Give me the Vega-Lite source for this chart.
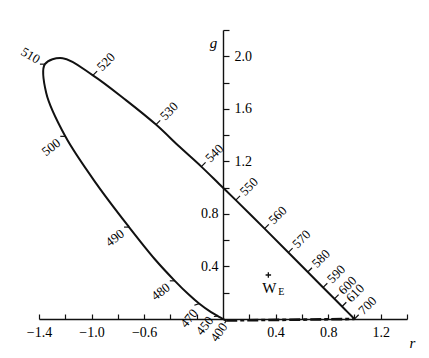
{
  "$schema": "https://vega.github.io/schema/vega-lite/v6.json",
  "width": 368,
  "height": 289,
  "autosize": {"type": "none"},
  "padding": {"left": 39, "top": 30, "right": 22, "bottom": 39},
  "background": "white",
  "config": {
    "view": {"stroke": null},
    "font": "Liberation Serif",
    "axis": {
      "grid": false,
      "domainColor": "#111111",
      "domainWidth": 1.4,
      "tickColor": "#111111",
      "tickWidth": 1.2,
      "labelColor": "#000000",
      "labelFont": "Liberation Serif",
      "labelFontSize": 14,
      "labelOverlap": false,
      "labelFlush": false,
      "labelBound": false,
      "titleFont": "Liberation Serif",
      "titleFontStyle": "italic",
      "titleFontWeight": "normal",
      "titleFontSize": 15,
      "titleColor": "#000000"
    }
  },
  "datasets": {
    "locus": [
      {"wl": 400, "r": 0.0247, "g": -0.0112},
      {"wl": 410, "r": 0.0225, "g": -0.0109},
      {"wl": 420, "r": 0.0181, "g": -0.0094},
      {"wl": 430, "r": 0.0088, "g": -0.0048},
      {"wl": 440, "r": -0.0084, "g": 0.0048},
      {"wl": 450, "r": -0.039, "g": 0.0218},
      {"wl": 460, "r": -0.0909, "g": 0.0517},
      {"wl": 470, "r": -0.1821, "g": 0.1175},
      {"wl": 475, "r": -0.2584, "g": 0.184},
      {"wl": 480, "r": -0.3667, "g": 0.2906},
      {"wl": 485, "r": -0.52, "g": 0.4568},
      {"wl": 490, "r": -0.715, "g": 0.6996},
      {"wl": 495, "r": -0.96, "g": 1.0247},
      {"wl": 500, "r": -1.2, "g": 1.3905},
      {"wl": 505, "r": -1.345, "g": 1.72},
      {"wl": 510, "r": -1.355, "g": 1.94},
      {"wl": 515, "r": -1.22, "g": 1.985},
      {"wl": 520, "r": -0.99, "g": 1.855},
      {"wl": 525, "r": -0.7386, "g": 1.6662},
      {"wl": 530, "r": -0.51, "g": 1.48},
      {"wl": 535, "r": -0.3304, "g": 1.3105},
      {"wl": 540, "r": -0.165, "g": 1.16},
      {"wl": 545, "r": -0.0293, "g": 1.0282},
      {"wl": 550, "r": 0.0974, "g": 0.9051},
      {"wl": 560, "r": 0.3164, "g": 0.6881},
      {"wl": 570, "r": 0.4973, "g": 0.5067},
      {"wl": 580, "r": 0.6449, "g": 0.3579},
      {"wl": 590, "r": 0.7617, "g": 0.2402},
      {"wl": 600, "r": 0.8475, "g": 0.1537},
      {"wl": 610, "r": 0.9059, "g": 0.0949},
      {"wl": 620, "r": 0.9425, "g": 0.058},
      {"wl": 640, "r": 0.9797, "g": 0.0205},
      {"wl": 660, "r": 0.9938, "g": 0.0062},
      {"wl": 700, "r": 1.0, "g": 0.0}
    ],
    "purple": [
      {"r": 0.0247, "g": -0.0112},
      {"r": 1.0, "g": 0.0}
    ],
    "white": [
      {"r": 0.345, "g": 0.335}
    ]
  },
  "resolve": {"axis": {"x": "independent", "y": "independent"}},
  "layer": [
    {
      "data": {"name": "locus"},
      "mark": {"type": "line", "interpolate": "catmull-rom", "color": "#111111", "strokeWidth": 2},
      "encoding": {
        "x": {
          "field": "r", "type": "quantitative",
          "scale": {"domain": [-1.4, 1.4], "nice": false, "zero": false},
          "axis": {
            "orient": "bottom",
            "values": [-1.4, -1.2, -1, -0.8, -0.6, -0.4, -0.2, 0.2, 0.4, 0.6, 0.8, 1, 1.2, 1.4],
            "tickSize": -5,
            "labelPadding": 11,
            "labelExpr": "(datum.value == -1.4 || datum.value == -1 || datum.value == -0.6 || datum.value == 0.4 || datum.value == 0.8 || datum.value == 1.2) ? format(datum.value, '.1f') : ''",
            "title": "r",
            "titleX": 373,
            "titleY": 28,
            "titleAlign": "center",
            "titleBaseline": "alphabetic",
            "titleAngle": 0
          }
        },
        "y": {
          "field": "g", "type": "quantitative",
          "scale": {"domain": [0, 2.2], "nice": false, "zero": false},
          "axis": {
            "orient": "right",
            "offset": -184,
            "values": [0.2, 0.4, 0.6, 0.8, 1, 1.2, 1.4, 1.6, 1.8, 2, 2.2],
            "tickSize": 6,
            "labelPadding": 5,
            "labelAlign": "left",
            "labelExpr": "(datum.value == 1.2 || datum.value == 1.6 || datum.value == 2) ? format(datum.value, '.1f') : ''",
            "title": "g",
            "titleAngle": 0,
            "titleX": -10,
            "titleY": 17,
            "titleAlign": "center",
            "titleBaseline": "alphabetic"
          }
        },
        "order": {"field": "wl", "type": "quantitative"}
      }
    },
    {
      "data": {"name": "purple"},
      "mark": {"type": "line", "color": "#111111", "strokeWidth": 2.6, "strokeDash": [11, 3, 4, 3]},
      "encoding": {
        "x": {"field": "r", "type": "quantitative", "scale": {"domain": [-1.4, 1.4], "nice": false, "zero": false}, "axis": null},
        "y": {"field": "g", "type": "quantitative", "scale": {"domain": [0, 2.2], "nice": false, "zero": false},
          "axis": {
            "orient": "left",
            "offset": -184,
            "values": [0.4, 0.8],
            "ticks": false,
            "domain": false,
            "labelPadding": 5,
            "format": ".1f",
            "title": null
          }
        }
      }
    },
    {
      "data": {"name": "locus"},
      "transform": [{"filter": "datum.wl >= 520 && datum.wl % 10 == 0 && (datum.wl <= 610 || datum.wl == 700)"}],
      "layer": [
        {
          "mark": {"type": "point", "shape": "M0,0L1,0", "size": 144, "angle": -45, "filled": false, "color": "#111111", "strokeWidth": 1.2, "opacity": 1}
        },
        {
          "mark": {"type": "text", "angle": -45, "align": "left", "baseline": "middle", "dx": 9, "fontSize": 13, "font": "Liberation Serif", "color": "#000000"},
          "encoding": {"text": {"field": "wl", "type": "quantitative", "format": "d"}}
        }
      ],
      "encoding": {
        "x": {"field": "r", "type": "quantitative", "scale": {"domain": [-1.4, 1.4], "nice": false, "zero": false}, "axis": null},
        "y": {"field": "g", "type": "quantitative", "scale": {"domain": [0, 2.2], "nice": false, "zero": false}, "axis": null}
      }
    },
    {
      "data": {"name": "locus"},
      "transform": [{"filter": "datum.wl == 510"}],
      "layer": [
        {
          "mark": {"type": "point", "shape": "M0,0L1,0", "size": 100, "angle": 180, "filled": false, "color": "#111111", "strokeWidth": 1.2, "opacity": 1}
        },
        {
          "mark": {"type": "text", "angle": 30, "align": "right", "baseline": "middle", "dx": -7, "fontSize": 13, "font": "Liberation Serif", "color": "#000000"},
          "encoding": {"text": {"field": "wl", "type": "quantitative", "format": "d"}}
        }
      ],
      "encoding": {
        "x": {"field": "r", "type": "quantitative", "scale": {"domain": [-1.4, 1.4], "nice": false, "zero": false}, "axis": null},
        "y": {"field": "g", "type": "quantitative", "scale": {"domain": [0, 2.2], "nice": false, "zero": false}, "axis": null}
      }
    },
    {
      "data": {"name": "locus"},
      "transform": [{"filter": "datum.wl == 480 || datum.wl == 490 || datum.wl == 500"}],
      "layer": [
        {
          "mark": {"type": "point", "shape": "M0,0L1,0", "size": 100, "angle": 180, "filled": false, "color": "#111111", "strokeWidth": 1.2, "opacity": 1}
        },
        {
          "mark": {"type": "text", "angle": -38, "align": "right", "baseline": "middle", "dx": -8, "fontSize": 13, "font": "Liberation Serif", "color": "#000000"},
          "encoding": {"text": {"field": "wl", "type": "quantitative", "format": "d"}}
        }
      ],
      "encoding": {
        "x": {"field": "r", "type": "quantitative", "scale": {"domain": [-1.4, 1.4], "nice": false, "zero": false}, "axis": null},
        "y": {"field": "g", "type": "quantitative", "scale": {"domain": [0, 2.2], "nice": false, "zero": false}, "axis": null}
      }
    },
    {
      "data": {"name": "locus"},
      "transform": [{"filter": "datum.wl == 470"}],
      "layer": [
        {
          "mark": {"type": "point", "shape": "M0,0L1,0", "size": 100, "angle": 160, "filled": false, "color": "#111111", "strokeWidth": 1.2, "opacity": 1}
        },
        {
          "mark": {"type": "text", "angle": -50, "align": "right", "baseline": "middle", "dx": -8, "dy": 2, "fontSize": 13, "font": "Liberation Serif", "color": "#000000"},
          "encoding": {"text": {"field": "wl", "type": "quantitative", "format": "d"}}
        }
      ],
      "encoding": {
        "x": {"field": "r", "type": "quantitative", "scale": {"domain": [-1.4, 1.4], "nice": false, "zero": false}, "axis": null},
        "y": {"field": "g", "type": "quantitative", "scale": {"domain": [0, 2.2], "nice": false, "zero": false}, "axis": null}
      }
    },
    {
      "data": {"name": "locus"},
      "transform": [{"filter": "datum.wl == 450"}],
      "layer": [
        {
          "mark": {"type": "point", "shape": "M0,0L1,0", "size": 64, "angle": 175, "filled": false, "color": "#111111", "strokeWidth": 1.2, "opacity": 1}
        },
        {
          "mark": {"type": "text", "angle": -51, "align": "right", "baseline": "middle", "dx": -6, "dy": -4, "fontSize": 13, "font": "Liberation Serif", "color": "#000000"},
          "encoding": {"text": {"field": "wl", "type": "quantitative", "format": "d"}}
        }
      ],
      "encoding": {
        "x": {"field": "r", "type": "quantitative", "scale": {"domain": [-1.4, 1.4], "nice": false, "zero": false}, "axis": null},
        "y": {"field": "g", "type": "quantitative", "scale": {"domain": [0, 2.2], "nice": false, "zero": false}, "axis": null}
      }
    },
    {
      "data": {"name": "locus"},
      "transform": [{"filter": "datum.wl == 400"}],
      "layer": [
        {
          "mark": {"type": "point", "shape": "M0,0L1,0", "size": 40, "angle": 120, "filled": false, "color": "#111111", "strokeWidth": 1.2, "opacity": 1}
        },
        {
          "mark": {"type": "text", "angle": -55, "align": "right", "baseline": "middle", "dx": -4, "dy": 1, "fontSize": 13, "font": "Liberation Serif", "color": "#000000"},
          "encoding": {"text": {"field": "wl", "type": "quantitative", "format": "d"}}
        }
      ],
      "encoding": {
        "x": {"field": "r", "type": "quantitative", "scale": {"domain": [-1.4, 1.4], "nice": false, "zero": false}, "axis": null},
        "y": {"field": "g", "type": "quantitative", "scale": {"domain": [0, 2.2], "nice": false, "zero": false}, "axis": null}
      }
    },
    {
      "data": {"name": "white"},
      "layer": [
        {
          "mark": {"type": "point", "shape": "M-1,0L1,0M0,-1L0,1", "size": 30, "filled": false, "color": "#111111", "strokeWidth": 1.3, "opacity": 1}
        },
        {
          "mark": {"type": "text", "text": "W", "align": "center", "baseline": "alphabetic", "dx": 1, "dy": 18, "fontSize": 15, "font": "Liberation Serif", "color": "#000000"}
        },
        {
          "mark": {"type": "text", "text": "E", "align": "center", "baseline": "alphabetic", "dx": 13, "dy": 20, "fontSize": 10, "font": "Liberation Serif", "color": "#000000"}
        }
      ],
      "encoding": {
        "x": {"field": "r", "type": "quantitative", "scale": {"domain": [-1.4, 1.4], "nice": false, "zero": false}, "axis": null},
        "y": {"field": "g", "type": "quantitative", "scale": {"domain": [0, 2.2], "nice": false, "zero": false}, "axis": null}
      }
    }
  ]
}
